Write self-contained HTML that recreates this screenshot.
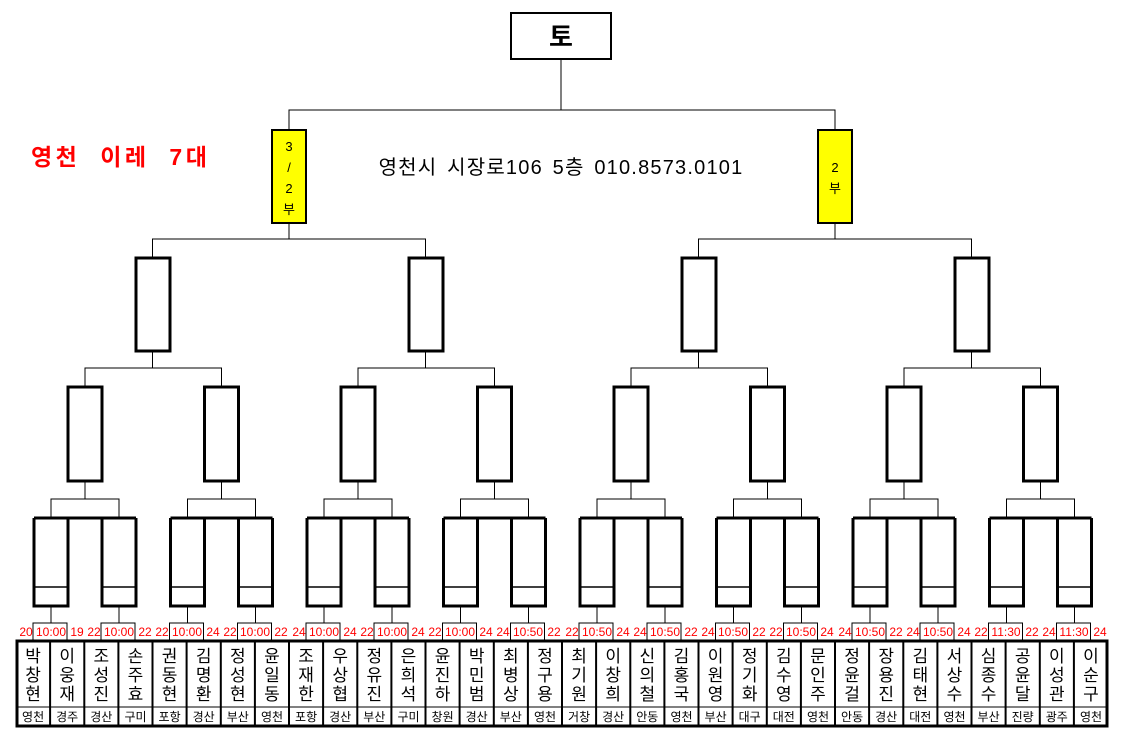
<!DOCTYPE html>
<html><head><meta charset="utf-8"><style>
html,body{margin:0;padding:0;background:#fff;}
svg{display:block;font-family:"Liberation Sans","Noto Sans CJK KR",sans-serif;}
.t{fill:#f00;font-size:12px;text-anchor:middle;}
.n{font-size:17px;text-anchor:middle;fill:#000;}
.r{font-size:12px;text-anchor:middle;fill:#000;}
</style></head><body>
<svg width="1144" height="732" viewBox="0 0 1144 732" xmlns="http://www.w3.org/2000/svg">
<defs>
<g id="grp">
<path d="M35 606V623M103 606V623M35 518V499H103V518M69 499V481" fill="none" stroke="#000"/>
<path d="M18 518H120M18 518V606H52V518M86 518V606H120V518" fill="#fff" stroke="#000" stroke-width="3"/>
<path d="M18 587H52M86 587H120" stroke="#000" stroke-width="1.5"/>
<rect x="52" y="387" width="34" height="94" fill="#fff" stroke="#000" stroke-width="3"/>
<rect x="17" y="623" width="34" height="17" fill="#fff" stroke="#000"/>
<rect x="85" y="623" width="34" height="17" fill="#fff" stroke="#000"/>
</g>
</defs>
<rect width="1144" height="732" fill="#fff"/>
<rect x="511" y="13" width="100" height="46" fill="#fff" stroke="#000" stroke-width="2"/>
<text x="561" y="46" font-size="26" font-weight="bold" text-anchor="middle">토</text>
<path d="M561 59V110M289 130V110H835V130" fill="none" stroke="#000" stroke-width="1"/>
<text x="31" y="165" font-size="23" font-weight="bold" fill="#f00" letter-spacing="3.5" word-spacing="10">영천 이레 7대</text>
<text x="561" y="174" font-size="20" text-anchor="middle" letter-spacing="1.2" word-spacing="3">영천시 시장로106 5층  010.8573.0101</text>
<rect x="272" y="130" width="34" height="93" fill="#ff0" stroke="#000" stroke-width="2"/>
<text x="289" y="151" font-size="13" text-anchor="middle">3</text>
<text x="289" y="172" font-size="13" text-anchor="middle">/</text>
<text x="289" y="193" font-size="13" text-anchor="middle">2</text>
<text x="289" y="214" font-size="13" text-anchor="middle">부</text>
<rect x="818" y="130" width="34" height="93" fill="#ff0" stroke="#000" stroke-width="2"/>
<text x="835" y="172" font-size="13" text-anchor="middle">2</text>
<text x="835" y="193" font-size="13" text-anchor="middle">부</text>
<path d="M289 223V239M152.5 257V239H425.5V257M835 223V239M698.5 257V239H971.5V257" fill="none" stroke="#000"/>
<g fill="#fff" stroke="#000" stroke-width="3">
<rect x="136" y="258" width="34" height="93"/><rect x="409" y="258" width="34" height="93"/>
<rect x="682" y="258" width="34" height="93"/><rect x="955" y="258" width="34" height="93"/>
</g>
<path d="M152.5 351V368M85 387V368H221.5V387M425.5 351V368M358 387V368H494.5V387M698.5 351V368M631 387V368H767.5V387M971.5 351V368M904 387V368H1040.5V387" fill="none" stroke="#000"/>
<use href="#grp" transform="translate(16,0)"/>
<use href="#grp" transform="translate(152.5,0)"/>
<use href="#grp" transform="translate(289,0)"/>
<use href="#grp" transform="translate(425.5,0)"/>
<use href="#grp" transform="translate(562,0)"/>
<use href="#grp" transform="translate(698.5,0)"/>
<use href="#grp" transform="translate(835,0)"/>
<use href="#grp" transform="translate(971.5,0)"/>
<g class="t">
<text x="26" y="636">20</text><text x="51" y="636">10:00</text><text x="77" y="636">19</text>
<text x="94" y="636">22</text><text x="119" y="636">10:00</text><text x="145" y="636">22</text>
<text x="162" y="636">22</text><text x="187" y="636">10:00</text><text x="213" y="636">24</text>
<text x="230" y="636">22</text><text x="255" y="636">10:00</text><text x="281" y="636">22</text>
<text x="299" y="636">24</text><text x="324" y="636">10:00</text><text x="350" y="636">24</text>
<text x="367" y="636">22</text><text x="392" y="636">10:00</text><text x="418" y="636">24</text>
<text x="435" y="636">22</text><text x="460" y="636">10:00</text><text x="486" y="636">24</text>
<text x="503" y="636">24</text><text x="528" y="636">10:50</text><text x="554" y="636">22</text>
<text x="572" y="636">22</text><text x="597" y="636">10:50</text><text x="623" y="636">24</text>
<text x="640" y="636">24</text><text x="665" y="636">10:50</text><text x="691" y="636">22</text>
<text x="708" y="636">24</text><text x="733" y="636">10:50</text><text x="759" y="636">22</text>
<text x="776" y="636">22</text><text x="801" y="636">10:50</text><text x="827" y="636">24</text>
<text x="845" y="636">24</text><text x="870" y="636">10:50</text><text x="896" y="636">22</text>
<text x="913" y="636">24</text><text x="938" y="636">10:50</text><text x="964" y="636">24</text>
<text x="981" y="636">22</text><text x="1006" y="636">11:30</text><text x="1032" y="636">22</text>
<text x="1049" y="636">24</text><text x="1074" y="636">11:30</text><text x="1100" y="636">24</text>
</g>
<rect x="17" y="641" width="1090" height="85" fill="#fff" stroke="#000" stroke-width="3"/>
<path d="M17 707H1107" stroke="#000" stroke-width="1"/>
<path d="M50.1 641V726M84.3 641V726M118.4 641V726M152.5 641V726M186.6 641V726M220.8 641V726M254.9 641V726M289 641V726M323.1 641V726M357.3 641V726M391.4 641V726M425.5 641V726M459.6 641V726M493.8 641V726M527.9 641V726M562 641V726M596.1 641V726M630.3 641V726M664.4 641V726M698.5 641V726M732.6 641V726M766.8 641V726M800.9 641V726M835 641V726M869.1 641V726M903.3 641V726M937.4 641V726M971.5 641V726M1005.6 641V726M1039.8 641V726M1073.9 641V726" stroke="#000" stroke-width="2"/>
<g class="n">
<text><tspan x="33.1" y="662">박</tspan><tspan x="33.1" y="681">창</tspan><tspan x="33.1" y="700">현</tspan></text>
<text><tspan x="67.2" y="662">이</tspan><tspan x="67.2" y="681">웅</tspan><tspan x="67.2" y="700">재</tspan></text>
<text><tspan x="101.3" y="662">조</tspan><tspan x="101.3" y="681">성</tspan><tspan x="101.3" y="700">진</tspan></text>
<text><tspan x="135.5" y="662">손</tspan><tspan x="135.5" y="681">주</tspan><tspan x="135.5" y="700">효</tspan></text>
<text><tspan x="169.6" y="662">권</tspan><tspan x="169.6" y="681">동</tspan><tspan x="169.6" y="700">현</tspan></text>
<text><tspan x="203.7" y="662">김</tspan><tspan x="203.7" y="681">명</tspan><tspan x="203.7" y="700">환</tspan></text>
<text><tspan x="237.8" y="662">정</tspan><tspan x="237.8" y="681">성</tspan><tspan x="237.8" y="700">현</tspan></text>
<text><tspan x="272" y="662">윤</tspan><tspan x="272" y="681">일</tspan><tspan x="272" y="700">동</tspan></text>
<text><tspan x="306.1" y="662">조</tspan><tspan x="306.1" y="681">재</tspan><tspan x="306.1" y="700">한</tspan></text>
<text><tspan x="340.2" y="662">우</tspan><tspan x="340.2" y="681">상</tspan><tspan x="340.2" y="700">협</tspan></text>
<text><tspan x="374.3" y="662">정</tspan><tspan x="374.3" y="681">유</tspan><tspan x="374.3" y="700">진</tspan></text>
<text><tspan x="408.5" y="662">은</tspan><tspan x="408.5" y="681">희</tspan><tspan x="408.5" y="700">석</tspan></text>
<text><tspan x="442.6" y="662">윤</tspan><tspan x="442.6" y="681">진</tspan><tspan x="442.6" y="700">하</tspan></text>
<text><tspan x="476.7" y="662">박</tspan><tspan x="476.7" y="681">민</tspan><tspan x="476.7" y="700">범</tspan></text>
<text><tspan x="510.8" y="662">최</tspan><tspan x="510.8" y="681">병</tspan><tspan x="510.8" y="700">상</tspan></text>
<text><tspan x="545" y="662">정</tspan><tspan x="545" y="681">구</tspan><tspan x="545" y="700">용</tspan></text>
<text><tspan x="579.1" y="662">최</tspan><tspan x="579.1" y="681">기</tspan><tspan x="579.1" y="700">원</tspan></text>
<text><tspan x="613.2" y="662">이</tspan><tspan x="613.2" y="681">창</tspan><tspan x="613.2" y="700">희</tspan></text>
<text><tspan x="647.3" y="662">신</tspan><tspan x="647.3" y="681">의</tspan><tspan x="647.3" y="700">철</tspan></text>
<text><tspan x="681.5" y="662">김</tspan><tspan x="681.5" y="681">홍</tspan><tspan x="681.5" y="700">국</tspan></text>
<text><tspan x="715.6" y="662">이</tspan><tspan x="715.6" y="681">원</tspan><tspan x="715.6" y="700">영</tspan></text>
<text><tspan x="749.7" y="662">정</tspan><tspan x="749.7" y="681">기</tspan><tspan x="749.7" y="700">화</tspan></text>
<text><tspan x="783.8" y="662">김</tspan><tspan x="783.8" y="681">수</tspan><tspan x="783.8" y="700">영</tspan></text>
<text><tspan x="818" y="662">문</tspan><tspan x="818" y="681">인</tspan><tspan x="818" y="700">주</tspan></text>
<text><tspan x="852.1" y="662">정</tspan><tspan x="852.1" y="681">윤</tspan><tspan x="852.1" y="700">걸</tspan></text>
<text><tspan x="886.2" y="662">장</tspan><tspan x="886.2" y="681">용</tspan><tspan x="886.2" y="700">진</tspan></text>
<text><tspan x="920.3" y="662">김</tspan><tspan x="920.3" y="681">태</tspan><tspan x="920.3" y="700">현</tspan></text>
<text><tspan x="954.5" y="662">서</tspan><tspan x="954.5" y="681">상</tspan><tspan x="954.5" y="700">수</tspan></text>
<text><tspan x="988.6" y="662">심</tspan><tspan x="988.6" y="681">종</tspan><tspan x="988.6" y="700">수</tspan></text>
<text><tspan x="1022.7" y="662">공</tspan><tspan x="1022.7" y="681">윤</tspan><tspan x="1022.7" y="700">달</tspan></text>
<text><tspan x="1056.8" y="662">이</tspan><tspan x="1056.8" y="681">성</tspan><tspan x="1056.8" y="700">관</tspan></text>
<text><tspan x="1091" y="662">이</tspan><tspan x="1091" y="681">순</tspan><tspan x="1091" y="700">구</tspan></text>
</g>
<g class="r">
<text x="33.1" y="721">영천</text><text x="67.2" y="721">경주</text><text x="101.3" y="721">경산</text><text x="135.5" y="721">구미</text>
<text x="169.6" y="721">포항</text><text x="203.7" y="721">경산</text><text x="237.8" y="721">부산</text><text x="272" y="721">영천</text>
<text x="306.1" y="721">포항</text><text x="340.2" y="721">경산</text><text x="374.3" y="721">부산</text><text x="408.5" y="721">구미</text>
<text x="442.6" y="721">창원</text><text x="476.7" y="721">경산</text><text x="510.8" y="721">부산</text><text x="545" y="721">영천</text>
<text x="579.1" y="721">거창</text><text x="613.2" y="721">경산</text><text x="647.3" y="721">안동</text><text x="681.5" y="721">영천</text>
<text x="715.6" y="721">부산</text><text x="749.7" y="721">대구</text><text x="783.8" y="721">대전</text><text x="818" y="721">영천</text>
<text x="852.1" y="721">안동</text><text x="886.2" y="721">경산</text><text x="920.3" y="721">대전</text><text x="954.5" y="721">영천</text>
<text x="988.6" y="721">부산</text><text x="1022.7" y="721">진량</text><text x="1056.8" y="721">광주</text><text x="1091" y="721">영천</text>
</g>
</svg>
</body></html>
